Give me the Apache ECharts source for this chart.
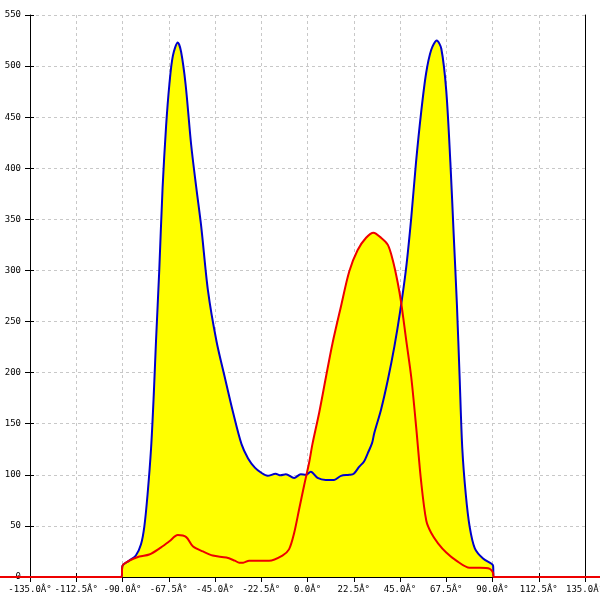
<!DOCTYPE html>
<html>
<head>
<meta charset="utf-8">
<script src="https://cdn.jsdelivr.net/npm/echarts@6/dist/echarts.min.js"></script>
<style>html,body{margin:0;padding:0;background:#fff}#c{width:600px;height:600px}</style>
</head>
<body>
<div id="c"></div>
<script>
var blueAngles = [-135, -90.5, -90, -86.7, -83.5, -81, -79.4, -77.8, -76.1, -74.8, -73.7, -72.1, -70.5, -68.8, -67.2, -65.5, -63.1, -61.5, -59.3, -56.6, -54.1, -51.7, -48.4, -44.3, -40.3, -36.2, -32.1, -28.9, -25.6, -22.5, -19.4, -15.5, -13.1, -10.5, -6.5, -3.3, -0.8, 1.6, 4.9, 8.9, 12.9, 16.3, 20.3, 22.5, 25.2, 27.5, 29.3, 31.4, 32.5, 35.8, 39.1, 42.3, 45, 47.9, 50.4, 52.8, 55.3, 57.7, 60.2, 62.9, 65.1, 67.5, 69.5, 71.1, 72.7, 74.0, 75.3, 77, 78.9, 81.4, 85.4, 89.5, 90.3, 90.5, 135];
var blueCounts = [0, 0, 11, 16, 21, 32, 49, 81, 126, 178, 231, 301, 381, 441, 482, 510, 523, 514, 482, 423, 381, 343, 280, 231, 196, 161, 130, 116, 107, 102, 99, 101, 99.5, 100.5, 97, 100.5, 100, 103, 97, 95, 95, 99, 100, 101, 108, 113, 121, 131, 141, 164, 193, 226, 259, 301, 350, 406, 455, 493, 516, 525, 517, 476, 406, 336, 266, 196, 126, 81, 49, 28, 18, 13, 11, 0, 0];
var redAngles = [-149.6, -90.5, -90, -86.7, -81.8, -77, -72, -67.2, -63.1, -59, -55.8, -50.9, -46.1, -39.5, -35.4, -33.2, -31.3, -28.4, -23.2, -18.7, -12.2, -9, -6.5, -4.1, -1.6, 0.8, 2.4, 5.7, 9.0, 12.2, 16.3, 20.3, 24.4, 28.5, 32.1, 35.8, 39.1, 41.5, 43.9, 45.6, 48.0, 50.5, 52.9, 55.3, 57.8, 60.2, 63.5, 67.5, 72.4, 78.9, 83.8, 88.7, 90.3, 90.5, 142.3];
var redCounts = [0, 0, 11, 16, 20, 22, 28, 35, 41, 39, 30, 25, 21, 19, 16, 14, 14, 16, 16, 16, 21, 27, 43, 66, 90, 112, 130, 161, 196, 229, 265, 299, 320, 332, 337, 332, 325, 310, 288, 268, 232, 195, 146, 93, 55, 43, 33, 24, 16, 9, 9, 8, 4, 0, 0];
var xMin = -135, xMax = 135, xStep = 22.5;
var yMin = 0, yMax = 550, yStep = 50;
// full-width extent of the same angle scale (the red baseline runs edge to edge)
var xFullMin = -149.6, xFullMax = 142.3;

function pairs(a, b) { return a.map(function (v, i) { return [v, b[i]]; }); }
var blueData = pairs(blueAngles, blueCounts);
var redData = pairs(redAngles, redCounts);

var font = 'DejaVu Sans Mono';
var chart = echarts.init(document.getElementById('c'), null, {renderer: 'canvas'});
var hidden = {axisLine: {show: false}, axisLabel: {show: false}, splitLine: {show: false}, axisTick: {show: false}};
chart.setOption({
  animation: false,
  backgroundColor: '#ffffff',
  grid: [
    {left: 30, right: 15, top: 15, bottom: 23, containLabel: false, outerBoundsMode: 'none'},
    {left: 0, right: 0, top: 15, bottom: 23, containLabel: false, outerBoundsMode: 'none'}
  ],
  xAxis: [{
    gridIndex: 0, type: 'value', min: xMin, max: xMax, interval: xStep, position: 'bottom',
    axisLine: {show: true, onZero: false, lineStyle: {color: '#000', width: 1}},
    axisTick: {show: true, inside: false, length: 5, lineStyle: {color: '#000'}},
    axisLabel: {show: true, margin: 8, color: '#000', fontFamily: font, fontSize: 9,
      formatter: function (v) { return v.toFixed(1) + 'Â°'; }},
    splitLine: {show: true, lineStyle: {color: '#c8c8c8', type: [3, 3], width: 1}}
  }, {
    gridIndex: 0, type: 'value', min: xMin, max: xMax, interval: xStep, position: 'bottom',
    axisLine: {show: false, onZero: false}, axisLabel: {show: false}, splitLine: {show: false},
    axisTick: {show: true, inside: true, length: 4, lineStyle: {color: '#000'}}
  }, Object.assign({gridIndex: 1, type: 'value', min: xFullMin, max: xFullMax}, hidden)],
  yAxis: [{
    gridIndex: 0, type: 'value', min: yMin, max: yMax, interval: yStep, position: 'left',
    axisLine: {show: true, onZero: false, lineStyle: {color: '#000', width: 1}},
    axisTick: {show: true, inside: false, length: 5, lineStyle: {color: '#000'}},
    axisLabel: {show: true, margin: 9, color: '#000', fontFamily: font, fontSize: 9},
    splitLine: {show: true, lineStyle: {color: '#c8c8c8', type: [3, 3], width: 1}}
  }, {
    gridIndex: 0, type: 'value', min: yMin, max: yMax, interval: yStep, position: 'left', offset: 0,
    axisLine: {show: false, onZero: false}, axisLabel: {show: false}, splitLine: {show: false},
    axisTick: {show: true, inside: true, length: 4, lineStyle: {color: '#000'}}
  }, {
    gridIndex: 0, type: 'value', min: yMin, max: yMax, interval: yStep, position: 'right', offset: 0,
    axisLine: {show: true, onZero: false, lineStyle: {color: '#000', width: 1}},
    axisLabel: {show: false}, splitLine: {show: false}, axisTick: {show: false}
  }, Object.assign({gridIndex: 1, type: 'value', min: yMin, max: yMax}, hidden)],
  series: [{
    type: 'line', data: blueData, showSymbol: false, smooth: 0.3, z: 2,
    xAxisIndex: 0, yAxisIndex: 0,
    lineStyle: {width: 0, opacity: 0}, areaStyle: {color: '#ffff00', opacity: 1}
  }, {
    type: 'line', data: redData, showSymbol: false, smooth: 0.3, z: 2,
    xAxisIndex: 0, yAxisIndex: 0,
    lineStyle: {width: 0, opacity: 0}, areaStyle: {color: '#ffff00', opacity: 1}
  }, {
    type: 'line', data: blueData, showSymbol: false, smooth: 0.3, z: 3,
    xAxisIndex: 0, yAxisIndex: 0,
    lineStyle: {color: '#0000cc', width: 2}
  }, {
    type: 'line', data: redData, showSymbol: false, smooth: 0.3, z: 4, clip: false,
    xAxisIndex: 2, yAxisIndex: 3,
    lineStyle: {color: '#ee0000', width: 2}
  }]
});
</script>
</body>
</html>
